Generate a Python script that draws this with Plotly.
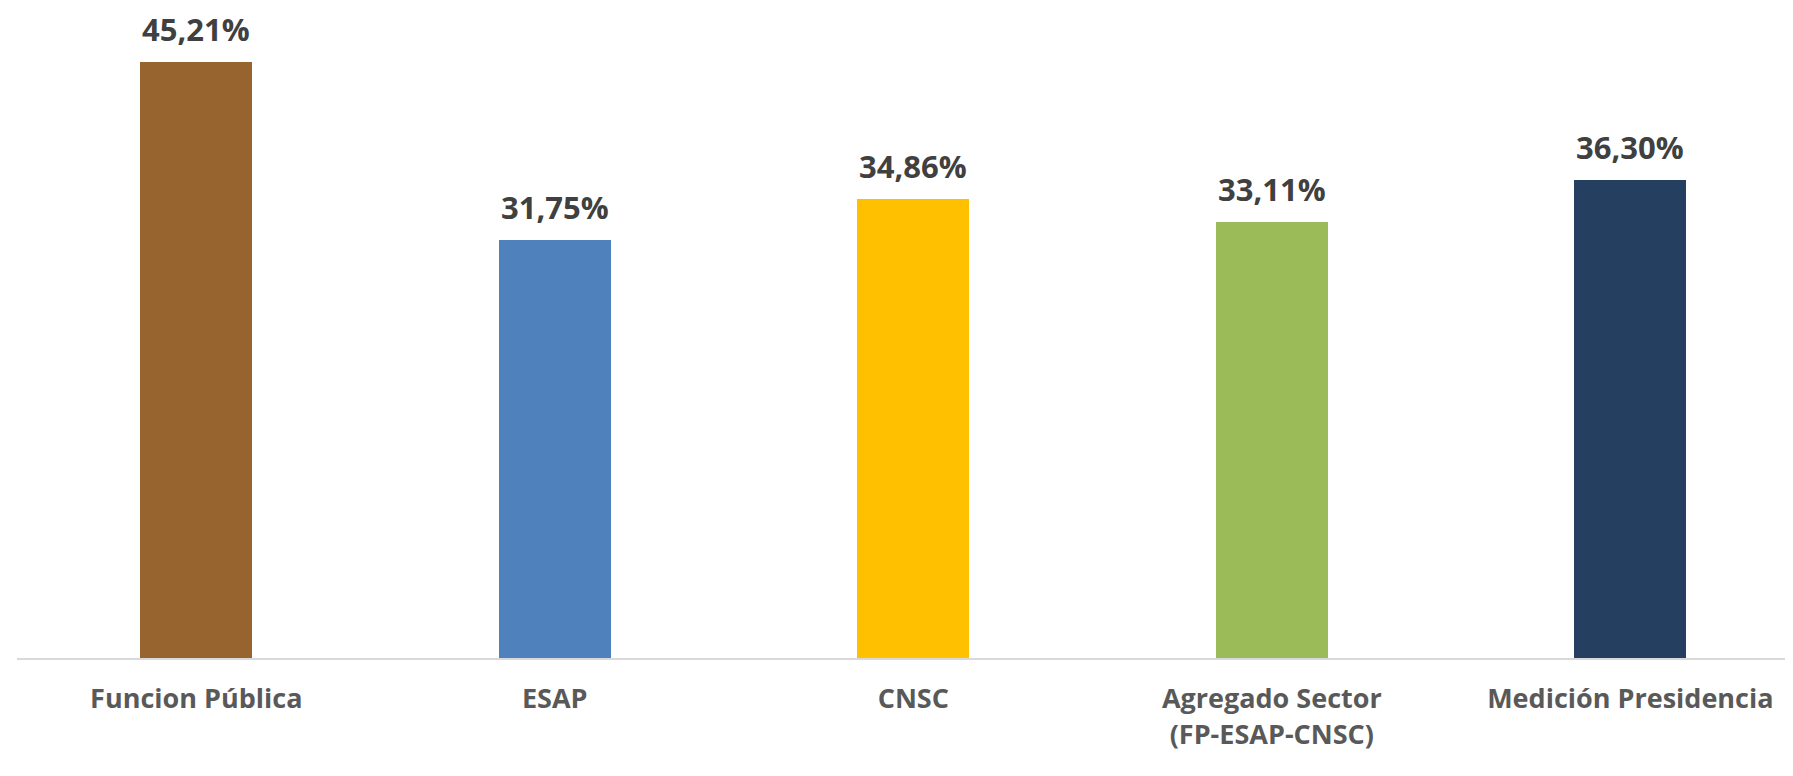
import plotly.graph_objects as go

categories = ["Funcion Pública", "ESAP", "CNSC", "Agregado Sector<br>(FP-ESAP-CNSC)", "Medición Presidencia"]
values = [0.4521, 0.3175, 0.3486, 0.3311, 0.3630]
labels = ["45,21%", "31,75%", "34,86%", "33,11%", "36,30%"]
colors = ["#97632F", "#4F81BD", "#FFC000", "#9BBB59", "#243F60"]

fig = go.Figure()
fig.add_trace(go.Bar(
    x=list(range(len(categories))),
    y=values,
    marker=dict(color=colors, line=dict(width=0)),
    width=0.3125,
    hoverinfo="skip",
))

for i, (v, t) in enumerate(zip(values, labels)):
    fig.add_annotation(
        x=i, y=v, text=t, showarrow=False,
        yanchor="bottom", yshift=10,
        font=dict(family="Open Sans", size=31, color="#404040", weight="bold"),
    )

fig.update_layout(
    width=1793, height=776,
    margin=dict(l=9, r=0, t=0, b=126),
    plot_bgcolor="white", paper_bgcolor="white",
    showlegend=False,
    bargap=0,
)
fig.update_xaxes(
    tickmode="array",
    tickvals=list(range(len(categories))),
    ticktext=categories,
    range=[-0.5, 4.476],
    showline=True, linecolor="#D9D9D9", linewidth=2,
    showgrid=False, zeroline=False, ticks="",
    tickfont=dict(family="Open Sans", size=27, color="#595959", weight="bold"),
    ticklabelstandoff=16,
)
fig.update_yaxes(
    range=[0, 0.4932], visible=False, showgrid=False, zeroline=False,
)

fig.write_html("out.html")
